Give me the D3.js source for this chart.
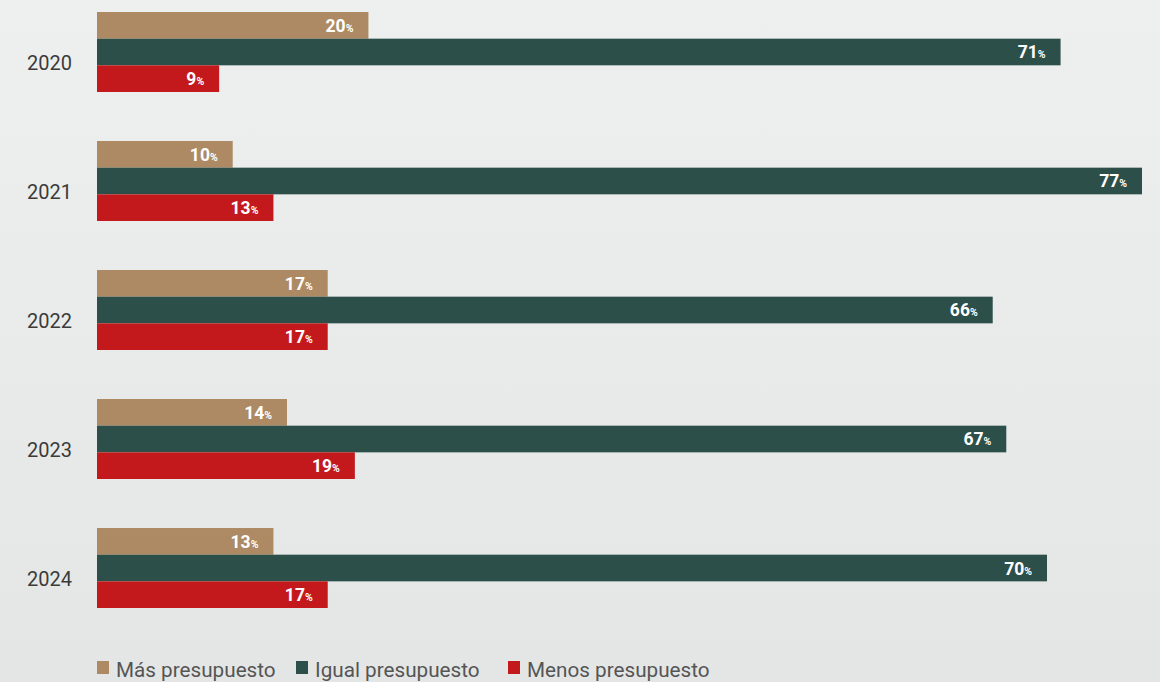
<!DOCTYPE html>
<html>
<head>
<meta charset="utf-8">
<script src="https://cdn.jsdelivr.net/npm/d3@7"></script>
<style>
  html, body { margin: 0; padding: 0; }
  body { width: 1160px; height: 682px; overflow: hidden; }
  svg { display: block; }
</style>
</head>
<body>
<svg id="chart" width="1160" height="682"></svg>
<script>
// ---- data ----
const years = ["2020", "2021", "2022", "2023", "2024"];
const seriesNames = ["Más presupuesto", "Igual presupuesto", "Menos presupuesto"];
const masValues   = [20, 10, 17, 14, 13];
const igualValues = [71, 77, 66, 67, 70];
const menosValues = [9, 13, 17, 19, 17];
const seriesColors = ["#ad8a63", "#2d4f4a", "#c4191c"];

// ---- layout ----
const W = 1160, H = 682;
const svg = d3.select("#chart");

const defs = svg.append("defs");
const grad = defs.append("linearGradient").attr("id", "bg").attr("x1", 0).attr("y1", 0).attr("x2", 0).attr("y2", 1);
grad.append("stop").attr("offset", "0%").attr("stop-color", "#eef0f0");
grad.append("stop").attr("offset", "100%").attr("stop-color", "#e3e6e5");
svg.append("rect").attr("width", W).attr("height", H).attr("fill", "url(#bg)");

const allSeries = [masValues, igualValues, menosValues];
const rows = years.map((y, i) => ({
  year: y,
  values: seriesNames.map((s, k) => ({ key: s, idx: k, value: allSeries[k][i] }))
}));

const x = d3.scaleLinear().domain([0, 77]).range([97, 1142]);
const y0 = d3.scaleBand().domain(years).range([12, 608]).paddingInner(0.38).paddingOuter(0);
const y1 = d3.scaleBand().domain(seriesNames).range([0, y0.bandwidth()]).padding(0);
const color = d3.scaleOrdinal().domain(seriesNames).range(seriesColors);

const groups = svg.append("g").selectAll("g.grp").data(rows).join("g")
  .attr("class", "grp")
  .attr("transform", d => `translate(0,${y0(d.year)})`);

groups.selectAll("rect").data(d => d.values).join("rect")
  .attr("x", x(0))
  .attr("y", d => y1(d.key))
  .attr("width", d => x(d.value) - x(0))
  .attr("height", y1.bandwidth())
  .attr("fill", d => color(d.key));

const lbl = groups.selectAll("text.val").data(d => d.values).join("text")
  .attr("class", "val")
  .attr("x", d => x(d.value) - 15)
  .attr("y", d => y1(d.key) + y1.bandwidth() / 2 + 6.5)
  .attr("text-anchor", "end")
  .attr("fill", "#ffffff")
  .attr("font-family", "Roboto, 'DejaVu Sans', sans-serif")
  .attr("font-weight", "bold");
lbl.append("tspan").attr("font-size", "17.5px").text(d => d.value);
lbl.append("tspan").attr("font-size", "10.5px").text("%");

// year labels
svg.append("g").selectAll("text").data(years).join("text")
  .attr("x", 72)
  .attr("y", d => y0(d) + y0.bandwidth() / 2 + 18)
  .attr("text-anchor", "end")
  .attr("fill", "#3b3b3b")
  .attr("font-family", "Roboto, sans-serif")
  .attr("font-size", "20px")
  .text(d => d);

// legend
const legendX = [97, 296, 508];
const leg = svg.append("g").selectAll("g").data(seriesNames).join("g")
  .attr("transform", (d, i) => `translate(${legendX[i]},661)`);
leg.append("rect").attr("width", 12).attr("height", 13).attr("fill", d => color(d));
leg.append("text")
  .attr("x", 19).attr("y", 15.5)
  .attr("fill", "#555555")
  .attr("font-family", "Roboto, sans-serif")
  .attr("font-size", "20.7px")
  .text(d => d);
</script>
</body>
</html>
